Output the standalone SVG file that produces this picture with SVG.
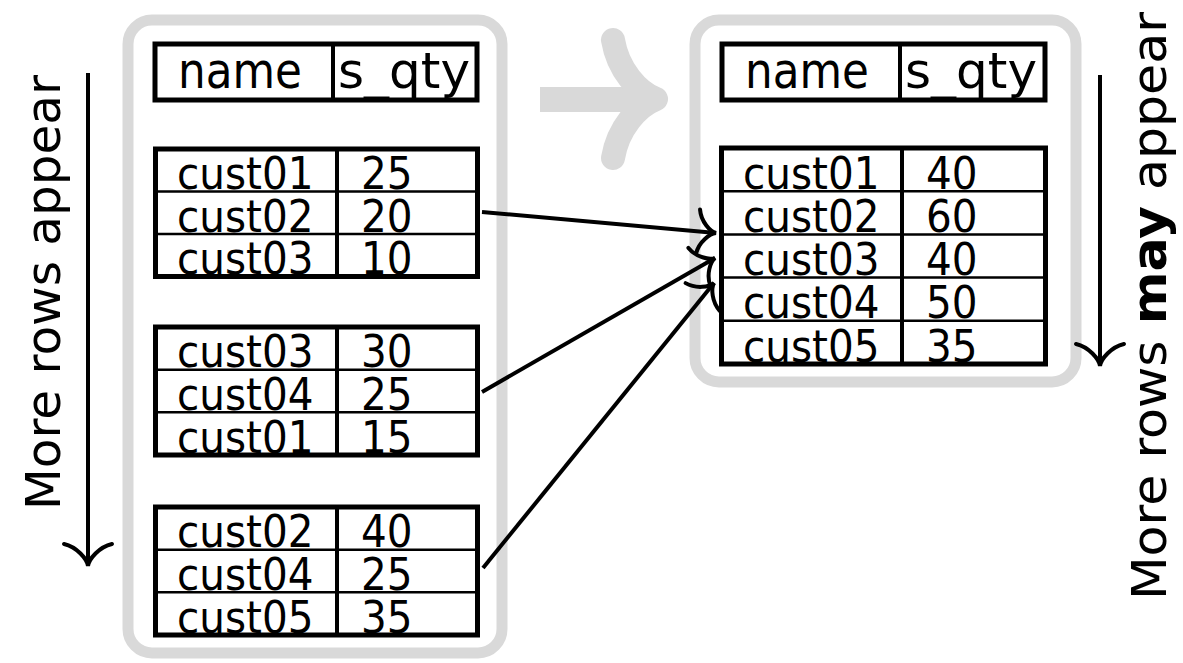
<svg xmlns="http://www.w3.org/2000/svg" width="1183" height="663" viewBox="0 0 1183 663">
<style>
.cont{fill:none;stroke:#d9d9d9;stroke-width:11}
.tb{fill:#fff;stroke:#000;stroke-width:5}
.rl{stroke:#000;stroke-width:2.5}
.cl{stroke:#000;stroke-width:4}
.t{font-family:"DejaVu Sans Condensed","DejaVu Sans",sans-serif;font-stretch:condensed;font-size:45px;fill:#000}
.h{font-family:"DejaVu Sans","Open Sans",sans-serif;font-size:50px;fill:#000}
.lab{font-family:"DejaVu Sans","Open Sans",sans-serif;font-size:48px;fill:#000}
.conn{fill:none;stroke:#000;stroke-width:4}
.garrow{fill:none;stroke:#d9d9d9;stroke-width:24;stroke-linecap:round;stroke-linejoin:round}
</style>
<defs>
<marker id="tip" markerUnits="userSpaceOnUse" orient="auto" markerWidth="60" markerHeight="60" viewBox="-30 -30 60 60" refX="0" refY="0" overflow="visible">
<path d="M -18 -22 C -16 -10 -6 -1 0 0 C -6 1 -16 10 -18 22" fill="none" stroke="#000" stroke-width="4" stroke-linecap="round"/>
</marker>
<marker id="tipL" markerUnits="userSpaceOnUse" orient="auto" markerWidth="70" markerHeight="70" viewBox="-35 -35 70 70" refX="0" refY="0" overflow="visible">
<path d="M -22 -24 C -19 -11 -7 -1 0 0 C -7 1 -19 11 -22 24" fill="none" stroke="#000" stroke-width="4" stroke-linecap="round"/>
</marker>
</defs>

<!-- containers -->
<g id="left-container">
<rect class="cont" x="128" y="20" width="374" height="633" rx="24"/>
</g>
<g id="right-container">
<rect class="cont" x="695" y="20" width="381" height="362" rx="24"/>
</g>

<!-- big gray arrow -->
<g id="gray-arrow">
<rect x="540" y="87" width="115" height="25" fill="#d9d9d9"/>
<path class="garrow" d="M 613 40 C 618 70 638 92 656 99 C 638 106 618 128 613 158"/>
</g>

<!-- left side label -->
<g id="left-label">
<line x1="88" y1="73" x2="88" y2="566" stroke="#000" stroke-width="4" marker-end="url(#tipL)"/>
<text class="lab" transform="translate(60 510) rotate(-90)" textLength="435" lengthAdjust="spacingAndGlyphs">More rows appear</text>
</g>

<!-- right side label -->
<g id="right-label">
<line x1="1100" y1="75" x2="1100" y2="366" stroke="#000" stroke-width="4" marker-end="url(#tipL)"/>
<text class="lab" transform="translate(1166 600) rotate(-90)" textLength="588" lengthAdjust="spacingAndGlyphs">More rows <tspan font-weight="bold">may</tspan> appear</text>
</g>

<!-- left header -->
<g id="left-header">
<rect class="tb" x="155" y="44" width="322" height="56"/>
<line class="cl" x1="333" y1="44" x2="333" y2="100"/>
<text class="h" x="178" y="88" textLength="124" lengthAdjust="spacingAndGlyphs">name</text>
<text class="h" x="338" y="88" textLength="132" lengthAdjust="spacingAndGlyphs">s_qty</text>
</g>

<!-- left table 1 -->
<g id="left-table-1">
<rect class="tb" x="155.5" y="149" width="322" height="127.5"/>
<line class="rl" x1="155.5" y1="191.5" x2="477.5" y2="191.5"/>
<line class="rl" x1="155.5" y1="234" x2="477.5" y2="234"/>
<line class="cl" x1="337" y1="149" x2="337" y2="276.5"/>
<text class="t" x="177" y="189">cust01</text><text class="t" x="361" y="189">25</text>
<text class="t" x="177" y="231.5">cust02</text><text class="t" x="361" y="231.5">20</text>
<text class="t" x="177" y="274">cust03</text><text class="t" x="361" y="274">10</text>
</g>

<!-- left table 2 -->
<g id="left-table-2">
<rect class="tb" x="155.5" y="327" width="322" height="128"/>
<line class="rl" x1="155.5" y1="369.7" x2="477.5" y2="369.7"/>
<line class="rl" x1="155.5" y1="412.3" x2="477.5" y2="412.3"/>
<line class="cl" x1="337" y1="327" x2="337" y2="455"/>
<text class="t" x="177" y="367.2">cust03</text><text class="t" x="361" y="367.2">30</text>
<text class="t" x="177" y="409.8">cust04</text><text class="t" x="361" y="409.8">25</text>
<text class="t" x="177" y="452.5">cust01</text><text class="t" x="361" y="452.5">15</text>
</g>

<!-- left table 3 -->
<g id="left-table-3">
<rect class="tb" x="155.5" y="507" width="322" height="128"/>
<line class="rl" x1="155.5" y1="549.7" x2="477.5" y2="549.7"/>
<line class="rl" x1="155.5" y1="592.3" x2="477.5" y2="592.3"/>
<line class="cl" x1="337" y1="507" x2="337" y2="635"/>
<text class="t" x="177" y="547.2">cust02</text><text class="t" x="361" y="547.2">40</text>
<text class="t" x="177" y="589.8">cust04</text><text class="t" x="361" y="589.8">25</text>
<text class="t" x="177" y="632.5">cust05</text><text class="t" x="361" y="632.5">35</text>
</g>

<!-- right header -->
<g id="right-header">
<rect class="tb" x="722" y="44" width="323" height="56"/>
<line class="cl" x1="900" y1="44" x2="900" y2="100"/>
<text class="h" x="745" y="88" textLength="124" lengthAdjust="spacingAndGlyphs">name</text>
<text class="h" x="905" y="88" textLength="132" lengthAdjust="spacingAndGlyphs">s_qty</text>
</g>

<!-- right table -->
<g id="right-table">
<rect class="tb" x="721.5" y="148" width="324" height="216"/>
<line class="rl" x1="721.5" y1="191.2" x2="1045.5" y2="191.2"/>
<line class="rl" x1="721.5" y1="234.4" x2="1045.5" y2="234.4"/>
<line class="rl" x1="721.5" y1="277.6" x2="1045.5" y2="277.6"/>
<line class="rl" x1="721.5" y1="320.8" x2="1045.5" y2="320.8"/>
<line class="cl" x1="902" y1="148" x2="902" y2="364"/>
<text class="t" x="743" y="188.7">cust01</text><text class="t" x="926" y="188.7">40</text>
<text class="t" x="743" y="231.9">cust02</text><text class="t" x="926" y="231.9">60</text>
<text class="t" x="743" y="275.1">cust03</text><text class="t" x="926" y="275.1">40</text>
<text class="t" x="743" y="318.3">cust04</text><text class="t" x="926" y="318.3">50</text>
<text class="t" x="743" y="361.5">cust05</text><text class="t" x="926" y="361.5">35</text>
</g>

<!-- connectors -->
<g id="connectors">
<line class="conn" x1="482" y1="212" x2="716" y2="233" marker-end="url(#tip)"/>
<line class="conn" x1="482" y1="392" x2="715" y2="258" marker-end="url(#tip)"/>
<line class="conn" x1="483" y1="568" x2="714" y2="283" marker-end="url(#tip)"/>
</g>
</svg>
